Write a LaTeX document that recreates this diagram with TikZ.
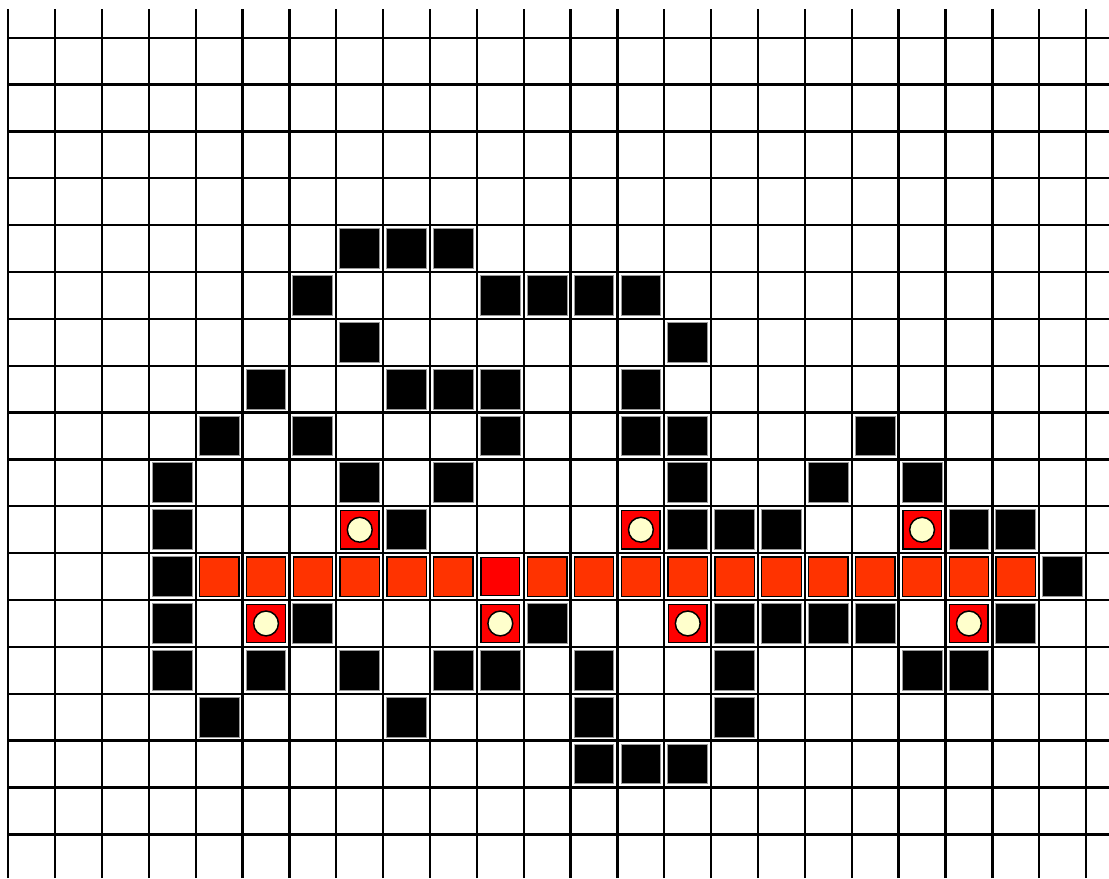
\documentclass[tikz,border=0pt]{standalone}
\usepackage{xcolor}
\usepackage{tikz}
\usetikzlibrary{positioning}
\definecolor{ember}{HTML}{FF3300}
\definecolor{flame}{HTML}{FF0000}
\definecolor{cream}{HTML}{FFFFCC}
\definecolor{halo}{HTML}{9A9A9A}
\tikzset{
  gridline/.style={line width=1.4pt, draw=black},
  wall/.style    ={rectangle, draw=halo, fill=black, line width=0.6pt,
                   minimum size=8.5mm, inner sep=0pt},
  trail/.style   ={rectangle, draw=black, fill=ember, line width=0.8pt,
                   minimum size=8.4mm, inner sep=0pt},
  spot/.style    ={rectangle, draw=black, fill=flame, line width=0.8pt,
                   minimum size=8.2mm, inner sep=0pt},
  pearl/.style   ={circle, draw=black, fill=cream, line width=0.9pt,
                   minimum size=5.3mm, inner sep=0pt},
}

\begin{document}
\begin{tikzpicture}
\useasboundingbox (0,0) rectangle (23.666,18.737);
\fill[white] (0,0) rectangle (23.666,18.737);
\begin{scope}[shift={(0.177,0.932)}]
% grid
\foreach \x in {0,...,23} { \draw[gridline] (\x,-0.932) -- (\x,17.606); }
\foreach \y in {0,...,17} { \draw[gridline] (0,\y) -- (23.489,\y); }
% walls, row by row
\foreach \r/\cols in {4/{7,8,9}, 5/{6,10,11,12,13}, 6/{7,14}, 7/{5,8,9,10,13},
    8/{4,6,10,13,14,18}, 9/{3,7,9,14,17,19}, 10/{3,8,14,15,16,20,21},
    11/{3,22}, 12/{3,6,11,15,16,17,18,21}, 13/{3,5,7,9,10,12,15,19,20},
    14/{4,8,12,15}, 15/{12,13,14}}
  { \foreach \c in \cols { \node[wall] (w\c-\r) at (\c+0.5,16.5-\r) {}; } }
% trail
\foreach \c in {4,...,9,11,12,...,21} { \node[trail] (t\c) at (\c+0.5,5.5) {}; }
\node[spot] (t10) at (10.5,5.5) {};
% spots with pearls
\foreach \c/\r in {7/10, 13/10, 19/10, 5/12, 10/12, 14/12, 20/12} {
  \node[spot] (s\c-\r) at (\c+0.5,16.5-\r) {};
  \node[pearl] (p\c-\r) at (s\c-\r) {};
}
\end{scope}
\end{tikzpicture}
\end{document}
